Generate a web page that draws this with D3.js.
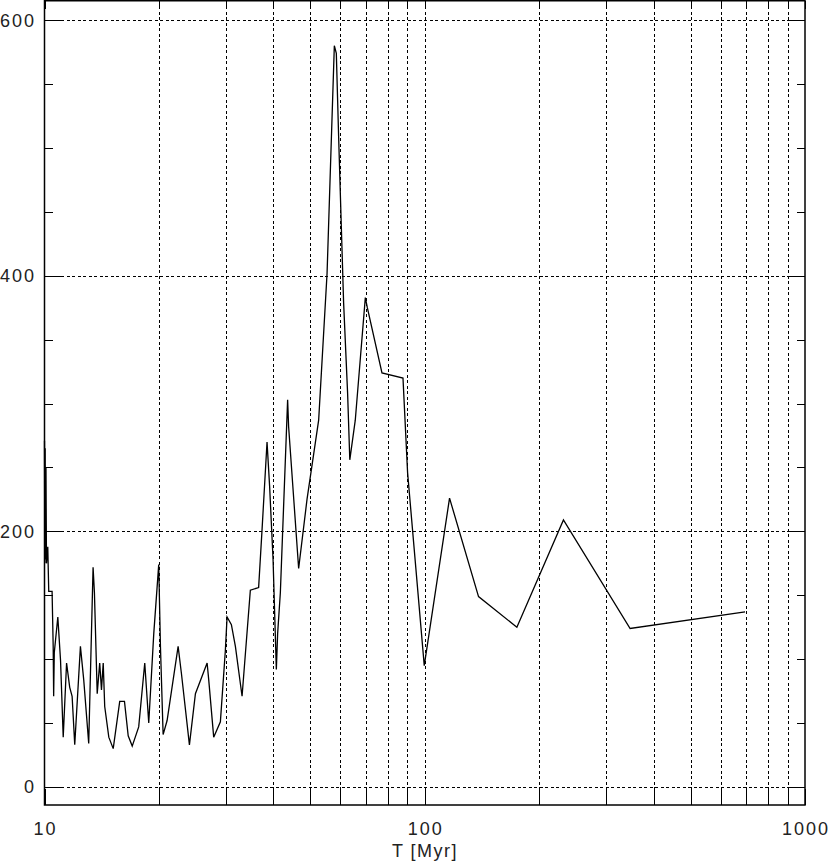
<!DOCTYPE html>
<html>
<head>
<meta charset="utf-8">
<script src="https://cdn.jsdelivr.net/npm/d3@7"></script>
<style>
  html, body { margin: 0; padding: 0; background: #fff; }
  svg { display: block; }
  text { font-family: "Liberation Sans", Arial, sans-serif; fill: #222; }
</style>
</head>
<body>
<svg id="chart" width="830" height="865"></svg>
<script>
// ---- data ----
const timeMyr = [
  10.00, 10.02, 10.04, 10.06, 10.09, 10.12, 10.20, 10.26, 10.47, 10.54, 10.57, 10.61,
  10.84, 11.02, 11.20, 11.43, 11.65, 11.82, 12.01, 12.43, 12.68, 13.07, 13.42, 13.53,
  13.76, 13.97, 14.12, 14.27, 14.40, 14.76, 15.16, 15.77, 16.23, 16.60, 17.01, 17.69,
  18.35, 18.80, 19.38, 19.97, 20.18, 20.51, 21.01, 22.46, 22.91, 24.05, 24.94, 26.77,
  27.03, 27.86, 29.01, 29.90, 30.21, 31.01, 31.77, 33.08, 34.78, 36.57, 37.33, 38.48,
  39.09, 39.91, 40.71, 41.03, 41.71, 43.59, 43.85, 46.60, 49.02, 52.60, 55.35, 57.84,
  58.54, 59.36, 61.18, 62.68, 63.52, 65.66, 69.78, 70.63, 77.18, 87.65, 90.13, 99.70,
  116.2, 138.5, 174.7, 231.6, 346.8, 695.6
];
const values = [
  271, 175, 265, 178, 250, 175, 188, 153, 153, 110, 71, 105,
  133, 99, 39, 97, 78, 71, 33, 110, 84, 34, 172, 152,
  73, 97, 76, 97, 63, 39, 30, 67, 67, 40, 32, 47,
  97, 50, 120, 174, 110, 41, 52, 110, 89, 33, 73, 97,
  84, 39, 51, 107, 133, 127, 110, 71, 154, 156, 201, 270,
  235, 178, 92, 120, 152, 303, 282, 171, 225, 287, 402, 580,
  574, 509, 379, 308, 256, 287, 383, 375, 324, 320, 246, 95,
  226, 149, 125, 209, 124, 137
];
const xGridValues = [20, 30, 40, 50, 60, 70, 80, 90, 100, 200, 300, 400, 500, 600, 700, 800, 900];
const xTickLabels = [10, 100, 1000];
const yMajorTicks = [0, 200, 400, 600];
const yMinorTicks = [50, 100, 150, 250, 300, 350, 450, 500, 550];
const xTitle = "T [Myr]";

// ---- layout ----
const L = 44.5, R = 805, T = 0.75, B = 805;
const svg = d3.select("#chart");
const x = d3.scaleLog().domain([10, 1000]).range([L, R]);
const y = d3.scaleLinear().domain([-14.1, 615.8]).range([B, 0]);
const px = v => Math.round(v) + 0.5;

const g = svg.append("g");

// dashed grid
g.selectAll("line.vg").data(xGridValues).enter().append("line")
  .attr("x1", d => px(x(d))).attr("x2", d => px(x(d))).attr("y1", T).attr("y2", B)
  .attr("stroke", "#000").attr("stroke-width", 1).attr("stroke-dasharray", "3,2.5")
  .attr("shape-rendering", "crispEdges");
g.selectAll("line.hg").data(yMajorTicks).enter().append("line")
  .attr("x1", L).attr("x2", R).attr("y1", d => px(y(d))).attr("y2", d => px(y(d)))
  .attr("stroke", "#000").attr("stroke-width", 1).attr("stroke-dasharray", "3,2.5")
  .attr("shape-rendering", "crispEdges");

// x ticks via axes (solid)
const xAll = [10].concat(xGridValues).concat([1000]);
const bottomAxis = d3.axisBottom(x).tickValues(xAll).tickSize(16).tickFormat("");
const topAxis = d3.axisTop(x).tickValues(xAll).tickSize(8).tickFormat("");
const ba = g.append("g").attr("transform", `translate(0,${B})`).call(bottomAxis);
const ta = g.append("g").attr("transform", `translate(0,${T})`).call(topAxis);
[ba, ta].forEach(a => {
  a.select(".domain").remove();
  a.selectAll(".tick").attr("transform", d => `translate(${px(x(d))},0)`);
  a.selectAll("line").attr("stroke", "#000").attr("stroke-width", 1)
    .attr("shape-rendering", "crispEdges");
});
ba.selectAll(".tick line").attr("y2", -16);
ta.selectAll(".tick line").attr("y2", 8);

// y ticks
function yTicks(side) {
  const sign = side === "left" ? 1 : -1;
  const x0 = side === "left" ? L : R;
  const mk = d3.axisLeft(y).tickValues(yMajorTicks).tickSize(0).tickFormat("");
  const ga = g.append("g").call(mk);
  ga.select(".domain").remove();
  ga.selectAll(".tick").attr("transform", d => `translate(0,${px(y(d))})`)
    .append("line").attr("x1", x0).attr("x2", x0 + sign * 16)
    .attr("stroke", "#000").attr("stroke-width", 1).attr("shape-rendering", "crispEdges");
  const mn = d3.axisLeft(y).tickValues(yMinorTicks).tickSize(0).tickFormat("");
  const gm = g.append("g").call(mn);
  gm.select(".domain").remove();
  gm.selectAll(".tick").attr("transform", d => `translate(0,${px(y(d))})`)
    .append("line").attr("x1", x0).attr("x2", x0 + sign * 8)
    .attr("stroke", "#000").attr("stroke-width", 1).attr("shape-rendering", "crispEdges");
}
yTicks("left");
yTicks("right");

// frame
g.append("rect").attr("x", L).attr("y", T).attr("width", R - L).attr("height", B - T)
  .attr("fill", "none").attr("stroke", "#000").attr("stroke-width", 1.5);

// data line
const pts = timeMyr.map((t, i) => [t, values[i]]);
const line = d3.line().x(d => x(d[0])).y(d => y(d[1]));
g.append("path").datum(pts).attr("d", line)
  .attr("fill", "none").attr("stroke", "#000").attr("stroke-width", 1.3)
  .attr("stroke-linejoin", "miter");

// labels
g.selectAll("text.yl").data(yMajorTicks).enter().append("text")
  .attr("x", 36).attr("y", d => y(d) + 6.5).attr("text-anchor", "end")
  .attr("font-size", 18).attr("letter-spacing", 2).text(d => d);
g.selectAll("text.xl").data(xTickLabels).enter().append("text")
  .attr("x", d => x(d) + 1).attr("y", 835).attr("text-anchor", "middle")
  .attr("font-size", 18).attr("letter-spacing", 2).text(d => d);
g.append("text").attr("x", 425).attr("y", 857).attr("text-anchor", "middle")
  .attr("font-size", 18).attr("letter-spacing", 1.5).text(xTitle);
</script>
</body>
</html>
